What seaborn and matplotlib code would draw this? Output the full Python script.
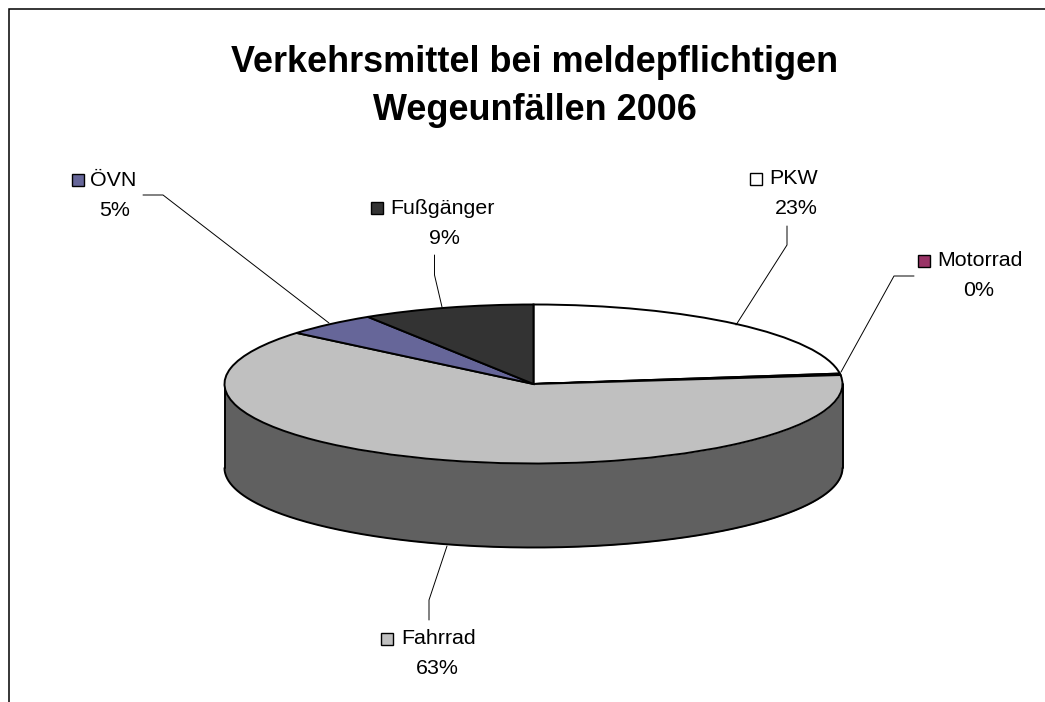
import numpy as np
import matplotlib
matplotlib.use("Agg")
import matplotlib.pyplot as plt
from matplotlib.patches import Rectangle
import seaborn as sns

# Data
categories = ["PKW", "Motorrad", "Fahrrad", "ÖVN", "Fußgänger"]
shares = [22.9, 0.3, 62.9, 4.9, 9.0]
title_lines = ["Verkehrsmittel bei meldepflichtigen", "Wegeunfällen 2006"]
hex_colors = ["#FFFFFF", "#993366", "#C0C0C0", "#666699", "#333333"]
wall_color = "#606060"

sns.set_theme(style="white", context="notebook")
plt.rcParams["font.family"] = ["Liberation Sans", "DejaVu Sans"]
palette = sns.color_palette(hex_colors)

W, H = 1045, 702
CX, CY, RX, RY, DEPTH = 533.5, 384.0, 309.0, 79.5, 84.0

fig = plt.figure(figsize=(W / 100, H / 100), dpi=100, facecolor="white")

# Pie axes: one data unit is RX pixels across and RY pixels down, which flattens the pie
ax = fig.add_axes([0, 0, 1, 1])
ax.pie(shares, colors=palette, startangle=90, counterclock=False, radius=1,
       center=(0, 0), wedgeprops=dict(edgecolor="black", linewidth=1.4, zorder=3))
ax.set_aspect("auto")
ax.axis("off")

# Side wall of the flattened cylinder
theta = np.linspace(np.pi, 2 * np.pi, 400)
d = DEPTH / RY
ax.fill_between(np.cos(theta), np.sin(theta) - d, np.sin(theta), color=wall_color,
                linewidth=0, zorder=1)
ax.plot(np.cos(theta), np.sin(theta) - d, color="black", lw=1.4, zorder=2)
ax.plot([-1, -1], [0, -d], color="black", lw=1.4, zorder=2)
ax.plot([1, 1], [0, -d], color="black", lw=1.4, zorder=2)
ax.set_xlim(-CX / RX, (W - CX) / RX)
ax.set_ylim((CY - H) / RY, CY / RY)

# Overlay in pixel coordinates for frame, title and labels
ov = fig.add_axes([0, 0, 1, 1], facecolor="none")
ov.set_xlim(0, W)
ov.set_ylim(H, 0)
ov.axis("off")

ov.plot([8.5, 8.5, W], [H, 9, 9], color="black", lw=1.1, solid_joinstyle="miter")

ov.text(535, 58, title_lines[0], ha="center", va="center_baseline", fontsize=25.9,
        fontweight="bold", color="black")
ov.text(535, 107, title_lines[1], ha="center", va="center_baseline", fontsize=25.9,
        fontweight="bold", color="black")

# name: key left, key top, name left, name y, value centre, value y, leader x, leader y
layout = {
    "PKW": (750, 173, 769, 177, 796, 207, (787, 787, 736), (226, 245, 325)),
    "Motorrad": (918, 255, 937, 259, 979, 288, (914, 894, 841), (276, 276, 372)),
    "Fahrrad": (381, 633, 401, 637, 437, 666, (429, 429, 447), (620, 600, 546)),
    "ÖVN": (72, 174, 90, 178, 115, 208, (143, 163, 329), (195, 195, 323)),
    "Fußgänger": (371, 202, 390, 206, 444, 236, (434.5, 434.5, 442), (255, 275, 307)),
}
total = sum(shares)
for name, val, col in zip(categories, shares, palette):
    kx, ky, tx, ty, vx, vy, lx, ly = layout[name]
    ov.add_patch(Rectangle((kx, ky), 12, 12, facecolor=col, edgecolor="black", lw=1.0))
    ov.text(tx, ty, name, ha="left", va="center_baseline", fontsize=15.4, color="black")
    ov.text(vx, vy, f"{val / total * 100:.0f}%", ha="center", va="center_baseline",
            fontsize=15.4, color="black")
    ov.plot(lx, ly, color="black", lw=0.7)

fig.savefig("out.png", dpi=100, facecolor="white")
